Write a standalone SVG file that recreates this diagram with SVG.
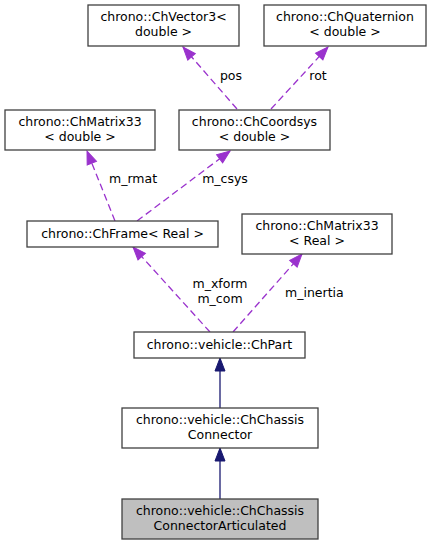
<svg xmlns="http://www.w3.org/2000/svg" width="432" height="545" viewBox="0 0 432 545">
<style>
.box{fill:#ffffff;stroke:#404040;stroke-width:1.3}
.cur{fill:#bfbfbf;stroke:#404040;stroke-width:1.3}
text{font-family:"DejaVu Sans",sans-serif;font-size:12.5px;fill:#000000;text-anchor:middle}
.use{fill:none;stroke:#9a32cd;stroke-width:1.3;stroke-dasharray:7,4}
.inh{fill:none;stroke:#191970;stroke-width:1.3}
</style>
<defs>
<marker id="pa" markerUnits="userSpaceOnUse" markerWidth="16" markerHeight="12" refX="14" refY="6" orient="auto" viewBox="0 0 16 12">
<path d="M1,1 L14,6 L1,11 Z" fill="#9a32cd" stroke="#9a32cd" stroke-width="1"/>
</marker>
<marker id="na" markerUnits="userSpaceOnUse" markerWidth="16" markerHeight="12" refX="14" refY="6" orient="auto" viewBox="0 0 16 12">
<path d="M1,1 L14,6 L1,11 Z" fill="#191970" stroke="#191970" stroke-width="1"/>
</marker>
</defs>
<g id="edges">
<path class="use" d="M237,109 L183,47" marker-end="url(#pa)"/>
<text x="231" y="80">pos</text>
<path class="use" d="M271,109 L328,47" marker-end="url(#pa)"/>
<text x="318" y="80">rot</text>
<path class="use" d="M115,221 L87,151" marker-end="url(#pa)"/>
<text x="133" y="183">m_rmat</text>
<path class="use" d="M137,221 L230,151" marker-end="url(#pa)"/>
<text x="225" y="183">m_csys</text>
<path class="use" d="M210,332 L133,247" marker-end="url(#pa)"/>
<text x="220" y="288">m_xform</text>
<text x="220" y="303">m_com</text>
<path class="use" d="M233,332 L302,254" marker-end="url(#pa)"/>
<text x="285" y="297" style="text-anchor:start">m_inertia</text>
<path class="inh" d="M220,408 L220,358" marker-end="url(#na)"/>
<path class="inh" d="M220,499 L220,448" marker-end="url(#na)"/>
</g>
<g id="vec3">
<rect class="box" x="88" y="5" width="151" height="41"/>
<text x="163.5" y="21">chrono::ChVector3&lt;</text>
<text x="163.5" y="36">double &gt;</text>
</g>
<g id="quat">
<rect class="box" x="264" y="5" width="162" height="41"/>
<text x="345" y="21">chrono::ChQuaternion</text>
<text x="345" y="36">&lt; double &gt;</text>
</g>
<g id="mat33d">
<rect class="box" x="5" y="110" width="150" height="40"/>
<text x="80" y="126">chrono::ChMatrix33</text>
<text x="80" y="141">&lt; double &gt;</text>
</g>
<g id="coordsys">
<rect class="box" x="179" y="110" width="151" height="40"/>
<text x="254.5" y="126">chrono::ChCoordsys</text>
<text x="254.5" y="141">&lt; double &gt;</text>
</g>
<g id="frame">
<rect class="box" x="27" y="221" width="191" height="26"/>
<text x="122.5" y="238">chrono::ChFrame&lt; Real &gt;</text>
</g>
<g id="mat33r">
<rect class="box" x="242" y="214" width="150" height="40"/>
<text x="317" y="230">chrono::ChMatrix33</text>
<text x="317" y="245">&lt; Real &gt;</text>
</g>
<g id="part">
<rect class="box" x="134" y="332" width="171" height="26"/>
<text x="219.5" y="349">chrono::vehicle::ChPart</text>
</g>
<g id="connector">
<rect class="box" x="122" y="408" width="196" height="40"/>
<text x="220" y="424">chrono::vehicle::ChChassis</text>
<text x="220" y="439">Connector</text>
</g>
<g id="articulated">
<rect class="cur" x="122" y="499" width="196" height="40"/>
<text x="220" y="515">chrono::vehicle::ChChassis</text>
<text x="220" y="530">ConnectorArticulated</text>
</g>
</svg>
